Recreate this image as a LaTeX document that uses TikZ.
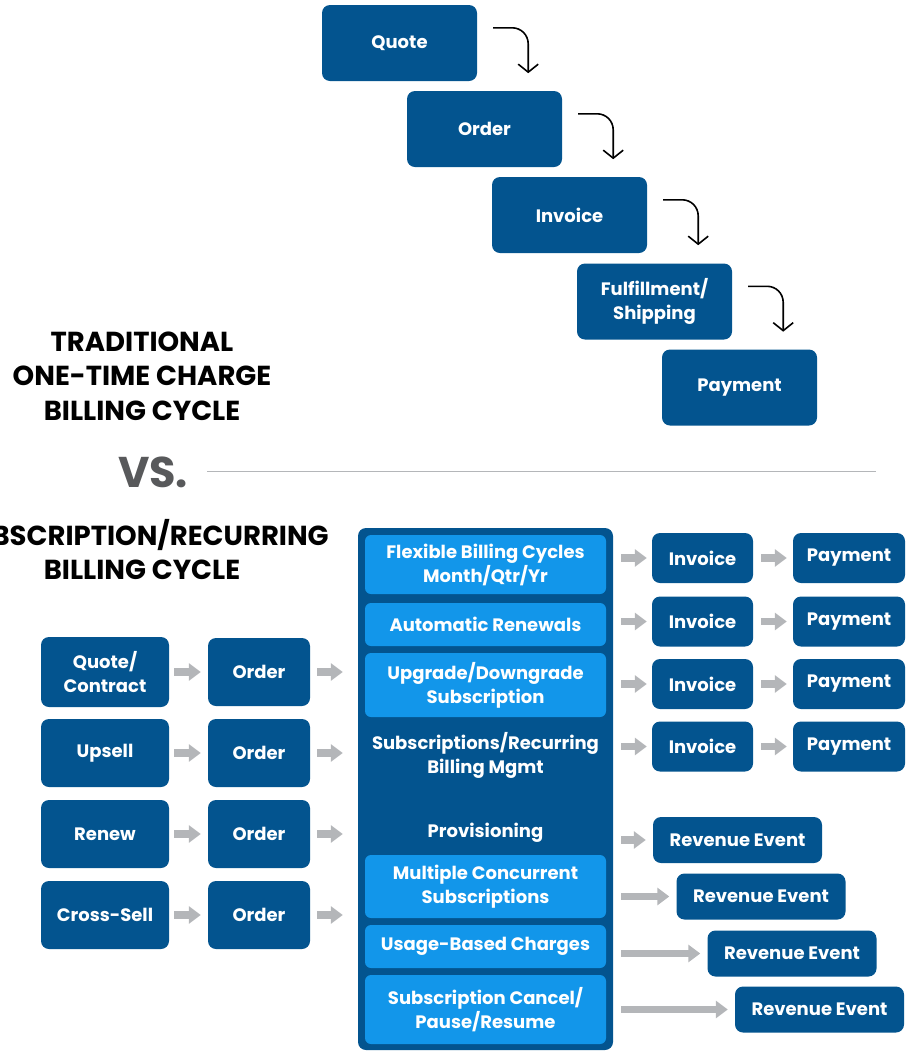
\documentclass[tikz,border=0pt]{standalone}
\usepackage{fontspec}
\setmainfont{Poppins}
\usepackage{xcolor}
\usetikzlibrary{arrows.meta}
\definecolor{darkblue}{HTML}{03548F}
\definecolor{lightblue}{HTML}{1296EA}
\definecolor{arrowgray}{HTML}{B4B6B9}
\definecolor{vsgray}{HTML}{58595B}

\begin{document}
\begin{tikzpicture}[x=1pt,y=-1pt,
    box/.style={fill=darkblue, rounded corners=8pt, text=white, inner sep=0pt, align=center,
      font=\fontsize{18}{24}\selectfont\bfseries},
    subbox/.style={fill=lightblue, rounded corners=6pt, text=white, inner sep=0pt, align=center,
      minimum width=241pt, font=\fontsize{18}{24}\selectfont\bfseries},
    plain/.style={text=white, align=center, font=\fontsize{18}{24}\selectfont\bfseries},
    heading/.style={align=center, font=\fontsize{27.5}{34.5}\selectfont\bfseries},
    curarr/.style={line width=1.6pt, rounded corners=16pt, -{Straight Barb[length=8pt,width=20pt]}},
    grayarr/.style={arrowgray, line width=7.5pt, -{Triangle[length=12pt,width=17pt]}}]
    \useasboundingbox (0,0) rectangle (909,1053);
    \clip (0,0) rectangle (909,1053);
    % traditional cycle
    \node[box, minimum width=155pt, minimum height=76pt] (q) at (399.5,43) {Quote};
    \node[box, minimum width=155pt, minimum height=76pt] (o) at (484.5,129) {Order};
    \node[box, minimum width=155pt, minimum height=76pt] (i) at (569.5,215) {Invoice};
    \node[box, minimum width=155pt, minimum height=76pt] (f) at (654.5,301.5) {Fulfillment/\\Shipping};
    \node[box, minimum width=155pt, minimum height=76pt] (p) at (739.5,387.5) {Payment};
    \foreach \a in {q,o,i,f}
        \draw[curarr] ([shift={(16pt,-23pt)}]\a.north east) -| ([shift={(51pt,8pt)}]\a.south east);
    \node[heading] (trad) at (142,376) {TRADITIONAL\\ONE-TIME CHARGE\\BILLING CYCLE};
    \node[vsgray, font=\fontsize{43}{43}\selectfont\bfseries] (vs) at (153,472) {VS.};
    \draw[arrowgray, line width=1pt] (207,471) -- (876,471);
    % subscription cycle
    \node[heading] (subs) at (142,549.5) {SUBSCRIPTION/RECURRING\\BILLING CYCLE};
    \node[box, minimum width=255pt, minimum height=522pt] (cont) at (485.5,789) {};
    \node[subbox, minimum height=59pt] (s1) at (485.5,564.5) {Flexible Billing Cycles\\Month/Qtr/Yr};
    \node[subbox, minimum height=43pt] (s2) at (485.5,624.5) {Automatic Renewals};
    \node[subbox, minimum height=64pt] (s3) at (485.5,685) {Upgrade/Downgrade\\Subscription};
    \node[plain] (s4) at (485.5,755) {Subscriptions/Recurring\\Billing Mgmt};
    \node[plain] (s5) at (485.5,833) {Provisioning};
    \node[subbox, minimum height=63pt] (s6) at (485.5,886.5) {Multiple Concurrent\\Subscriptions};
    \node[subbox, minimum height=43pt] (s7) at (485.5,946.5) {Usage-Based Charges};
    \node[subbox, minimum height=69pt] (s8) at (485.5,1009.5) {Subscription Cancel/\\Pause/Resume};
    % entry points
    \node[box, minimum width=128pt, minimum height=70pt] (e1) at (105,672) {Quote/\\Contract};
    \node[box, minimum width=128pt, minimum height=68pt] (e2) at (105,753) {Upsell};
    \node[box, minimum width=128pt, minimum height=68pt] (e3) at (105,834) {Renew};
    \node[box, minimum width=128pt, minimum height=68pt] (e4) at (105,915) {Cross-Sell};
    \foreach \n/\y in {1/672,2/753,3/834,4/915} {
        \node[box, minimum width=102pt, minimum height=68pt] (o\n) at (259,\y) {Order};
        \draw[grayarr, shorten <=5pt, shorten >=7pt] (e\n.east) -- (o\n.west);
        \draw[grayarr, shorten <=7pt, shorten >=15pt] (o\n.east) -- (cont.west |- o\n.east);
    }
    % billing outputs
    \foreach \n/\y in {1/558,2/621.5,3/684,4/746.5} {
        \node[box, minimum width=101pt, minimum height=50pt] (inv\n) at (702.5,\y) {Invoice};
        \node[box, minimum width=112pt, minimum height=50pt] (pay\n) at (849,\y) {Payment};
        \draw[grayarr, shorten <=8pt, shorten >=5pt] (cont.east |- inv\n.west) -- (inv\n.west);
        \draw[grayarr, shorten <=8pt, shorten >=6pt] (inv\n.east) -- (pay\n.west);
    }
    % revenue events
    \foreach \n/\x/\y in {1/737.5/840,2/761/896.5,3/792/953.5,4/819.5/1009.5} {
        \node[box, minimum width=169pt, minimum height=46pt] (rev\n) at (\x,\y) {Revenue Event};
        \draw[grayarr, shorten <=8pt, shorten >=7pt] (cont.east |- rev\n.west) -- (rev\n.west);
    }
\end{tikzpicture}
\end{document}
